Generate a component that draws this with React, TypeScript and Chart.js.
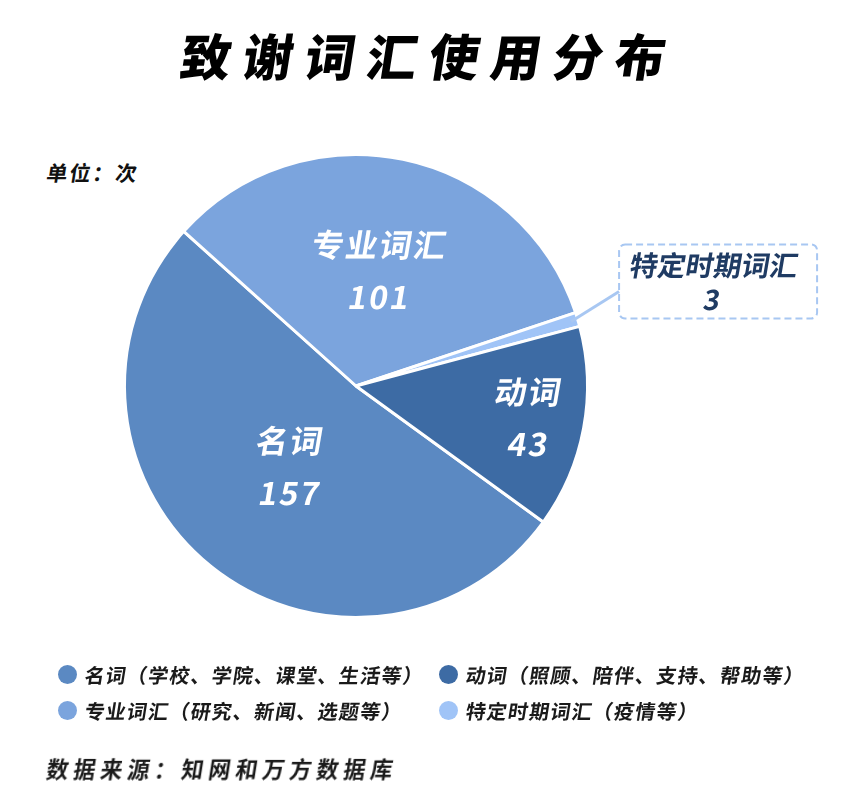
import { useEffect, useRef } from 'react';
import Chart from 'chart.js/auto';

// data
const categories = ['名词', '专业词汇', '特定时期词汇', '动词'];
const counts = [157, 101, 3, 43];
const notes = ['学校、学院、课堂、生活等', '研究、新闻、选题等', '疫情等', '照顾、陪伴、支持、帮助等'];
const legendOrder = [0, 3, 1, 2];

const colors = ['#5b89c2', '#7ba4dd', '#a0c4f7', '#3d6ba4'];
const FONT = '"Noto Sans CJK SC", "Noto Sans", sans-serif';
const SKEW = -0.17;

// how far out (fraction of radius) each slice label sits
const labelDepth = [0.45, 0.51, 0.97, 0.76];

const skewText = (ctx: CanvasRenderingContext2D, text: string, x: number, y: number) => {
  ctx.save();
  ctx.translate(x, y);
  ctx.transform(1, 0, SKEW, 1, 0, 0);
  ctx.fillText(text, 0, 0);
  ctx.restore();
};

const sliceLabels = {
  id: 'sliceLabels',
  afterDatasetsDraw(chart: any) {
    const ctx: CanvasRenderingContext2D = chart.ctx;
    const meta = chart.getDatasetMeta(0);
    meta.data.forEach((arc: any, i: number) => {
      const { x, y, startAngle, endAngle, outerRadius } = arc.getProps(
        ['x', 'y', 'startAngle', 'endAngle', 'outerRadius'],
        true
      );
      const mid = (startAngle + endAngle) / 2;
      const r = outerRadius * labelDepth[i];
      const px = x + Math.cos(mid) * r;
      const py = y + Math.sin(mid) * r;
      ctx.save();
      ctx.textAlign = 'center';
      ctx.textBaseline = 'middle';
      if (i === 2) {
        // small slice: callout box
        const bx = px + 48;
        const by = py - 77;
        const bw = 198;
        const bh = 74;
        ctx.strokeStyle = '#a8c7f2';
        ctx.lineWidth = 3;
        ctx.beginPath();
        ctx.moveTo(px, py);
        ctx.lineTo(bx, py - 30);
        ctx.stroke();
        ctx.lineWidth = 2;
        ctx.setLineDash([7, 4]);
        ctx.beginPath();
        ctx.roundRect(bx, by, bw, bh, 6);
        ctx.stroke();
        ctx.setLineDash([]);
        ctx.fillStyle = '#1f3b63';
        ctx.font = `700 28px ${FONT}`;
        skewText(ctx, categories[i], bx + bw / 2 - 4, by + 21);
        skewText(ctx, String(counts[i]), bx + bw / 2 - 6, by + 55);
      } else {
        ctx.fillStyle = '#ffffff';
        ctx.font = `700 32px ${FONT}`;
        (ctx as any).letterSpacing = '2px';
        skewText(ctx, categories[i], px, py - 26);
        skewText(ctx, String(counts[i]), px, py + 26);
      }
      ctx.restore();
    });
  },
};

const PieChart = () => {
  const chartRef = useRef<HTMLCanvasElement>(null);
  const chartInstance = useRef<Chart | null>(null);

  useEffect(() => {
    if (chartRef.current) {
      if (chartInstance.current) {
        chartInstance.current.destroy();
      }
      chartInstance.current = new Chart(chartRef.current, {
        type: 'pie',
        data: {
          labels: categories,
          datasets: [
            {
              data: counts,
              backgroundColor: colors,
              borderColor: '#ffffff',
              borderWidth: 3,
              hoverOffset: 0,
            },
          ],
        },
        options: {
          responsive: false,
          animation: false,
          rotation: 126,
          layout: { padding: { left: 123, right: 276, top: 153, bottom: 180 } },
          plugins: {
            legend: { display: false },
            tooltip: { enabled: false },
          },
        },
        plugins: [sliceLabels],
      });
    }
    return () => {
      if (chartInstance.current) {
        chartInstance.current.destroy();
        chartInstance.current = null;
      }
    };
  }, []);

  return (
    <canvas
      ref={chartRef}
      width={865}
      height={799}
      style={{ position: 'absolute', left: 0, top: 0, width: 865, height: 799 }}
    />
  );
};

const skew = 'skewX(-9deg)';

const App = () => {
  return (
    <div
      style={{
        position: 'absolute',
        left: 0,
        top: 0,
        width: 865,
        height: 799,
        overflow: 'hidden',
        background: '#fff',
        fontFamily: FONT,
        color: '#111',
      }}
    >
      <div
        style={{
          position: 'absolute',
          left: 182,
          top: 29,
          fontSize: 50,
          lineHeight: '50px',
          fontWeight: 900,
          letterSpacing: 12,
          whiteSpace: 'nowrap',
          color: '#000',
          transform: skew,
        }}
      >
        致谢词汇使用分布
      </div>
      <div
        style={{
          position: 'absolute',
          left: 47,
          top: 161,
          fontSize: 21,
          lineHeight: '22px',
          fontWeight: 700,
          letterSpacing: 2,
          whiteSpace: 'nowrap',
          transform: skew,
        }}
      >
        单位：次
      </div>
      <PieChart />
      <div
        style={{
          position: 'absolute',
          left: 58,
          top: 656,
          display: 'grid',
          gridTemplateColumns: '381px auto',
          gridAutoRows: '36px',
        }}
      >
        {legendOrder.map((i) => (
          <div key={categories[i]} style={{ display: 'flex', alignItems: 'center' }}>
            <span
              style={{
                width: 19,
                height: 19,
                borderRadius: '50%',
                background: colors[i],
                marginRight: 8,
                flex: 'none',
              }}
            />
            <span
              style={{
                fontSize: 20,
                fontWeight: 600,
                letterSpacing: 1.2,
                whiteSpace: 'nowrap',
                color: '#1a1a1a',
                transform: skew,
              }}
            >
              {categories[i]}（{notes[i]}）
            </span>
          </div>
        ))}
      </div>
      <div
        style={{
          position: 'absolute',
          left: 47,
          top: 756,
          fontSize: 22,
          lineHeight: '24px',
          fontWeight: 700,
          letterSpacing: 5,
          whiteSpace: 'nowrap',
          color: '#1a1a1a',
          transform: skew,
        }}
      >
        数据来源：知网和万方数据库
      </div>
    </div>
  );
};

export default App;
